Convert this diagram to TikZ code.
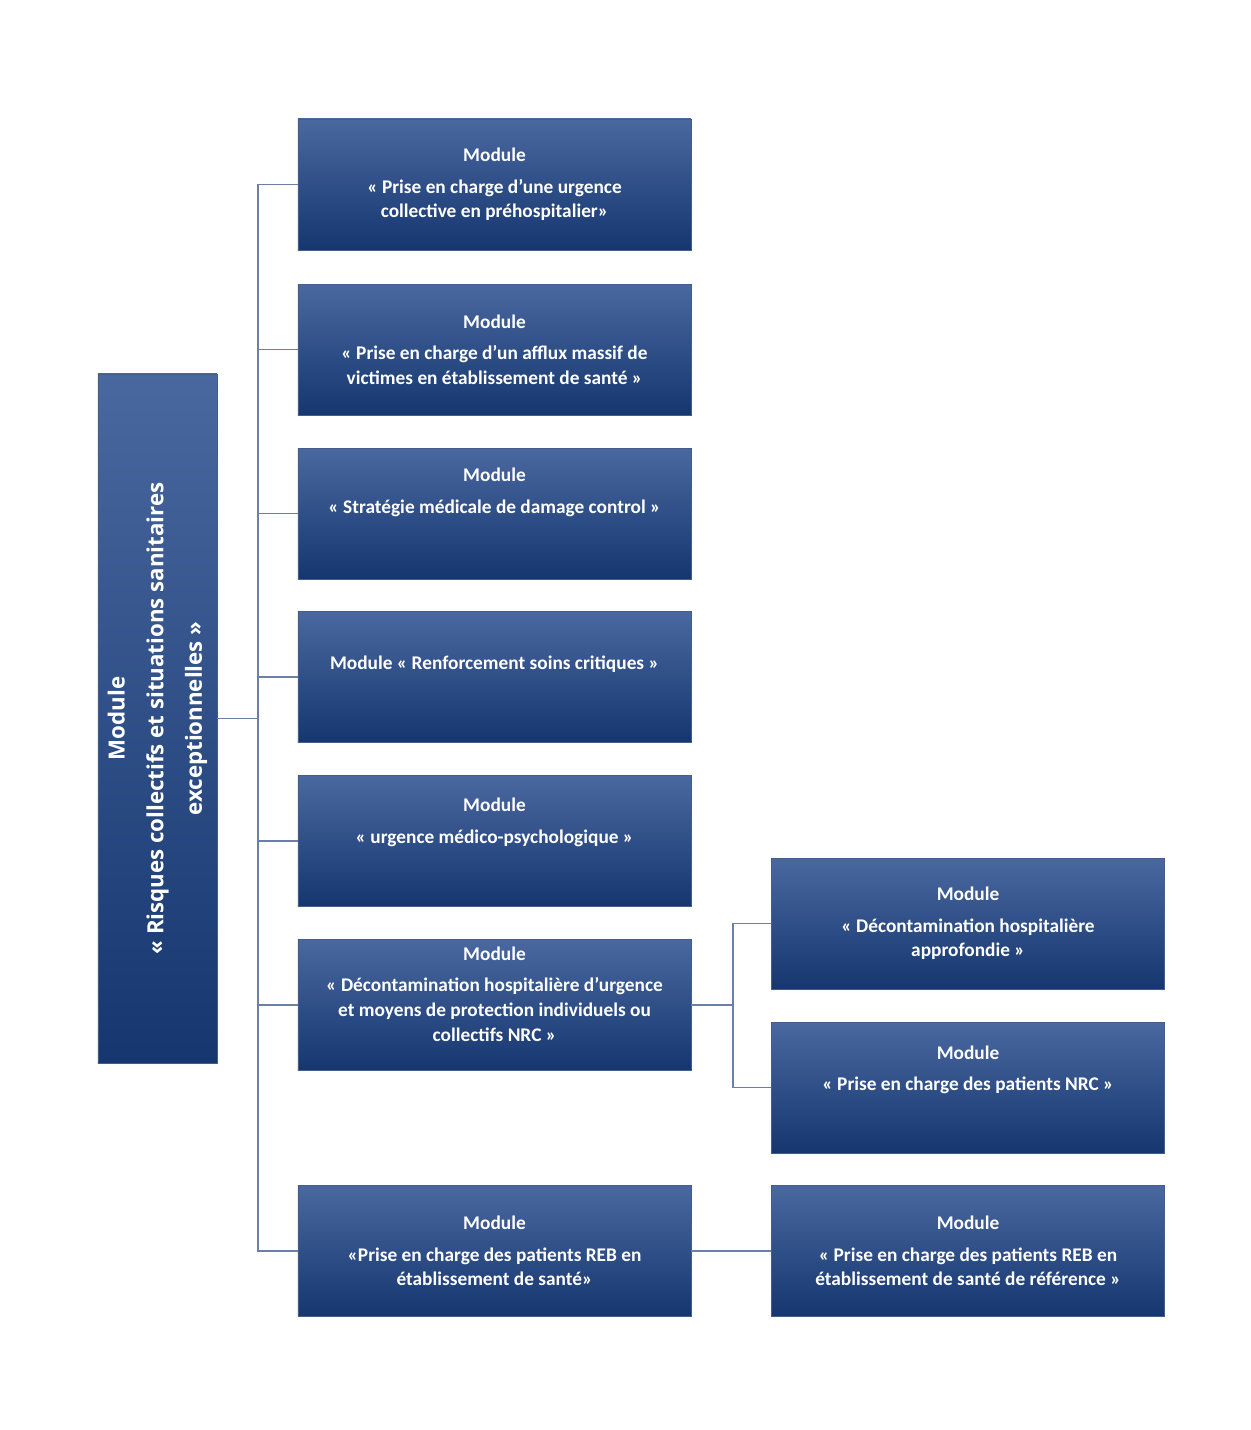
\documentclass[tikz,border=0pt]{standalone}
\usepackage{fontspec}
\setmainfont{Carlito}
\newfontfamily\titlefont{Open Sans}
\definecolor{boxtop}{HTML}{4A68A0}
\definecolor{boxbot}{HTML}{15366F}
\definecolor{linec}{HTML}{6A80A8}
\begin{document}
\begin{tikzpicture}[x=0.03cm,y=-0.03cm,
  box/.style={draw=boxbot!80!white,line width=0.6pt,top color=boxtop,bottom color=boxbot,
    text=white,font=\bfseries\fontsize{16.5}{21}\selectfont,align=center,inner sep=0pt,
    minimum width=11.79cm,minimum height=3.93cm},
  conn/.style={draw=linec,line width=0.9pt}]
\useasboundingbox (0,0) rectangle (1250,1430);
\node[box,minimum width=3.57cm,minimum height=20.67cm] (root) at (157.5,718.5) {};
\node[rotate=90,text=white,font=\titlefont\bfseries\fontsize{19}{33}\selectfont,align=center] at (root.center) {Module\\« Risques collectifs et situations sanitaires\\exceptionnelles »};
\node[box] (b1) at (494.5,184.5) {Module\\[6pt]« Prise en charge d’une urgence\\collective en préhospitalier»};
\node[box] (b2) at (494.5,349.5) {Module\\[6pt]« Prise en charge d’un afflux massif de\\victimes en établissement de santé »};
\node[box] (b3) at (494.5,513.5) {Module\\[6pt]« Stratégie médicale de damage control »\\[18pt]};
\node[box] (b4) at (494.5,677) {Module « Renforcement soins critiques »\\[3pt]};
\node[box] (b5) at (494.5,841) {Module\\[6pt]« urgence médico-psychologique »\\[14pt]};
\node[box] (b6) at (494.5,1005) {Module\\[6pt]« Décontamination hospitalière d’urgence\\et moyens de protection individuels ou\\collectifs NRC »\\[-2pt]};
\node[box] (b7) at (494.5,1251) {Module\\[6pt]«Prise en charge des patients REB en\\établissement de santé»};
\node[box] (c1) at (968,923.5) {Module\\[6pt]« Décontamination hospitalière\\approfondie »};
\node[box] (c2) at (968,1087.5) {Module\\[6pt]« Prise en charge des patients NRC »\\[12pt]};
\node[box] (c3) at (968,1251) {Module\\[6pt]« Prise en charge des patients REB en\\établissement de santé de référence »};
\coordinate (t) at (258,718.5);
\draw[conn] (root.east) -- (t);
\foreach \b in {b1,b2,b3,b4,b5,b6,b7} \draw[conn] (t) |- (\b.west);
\coordinate (s) at (733,1005);
\draw[conn] (b6.east) -- (s);
\draw[conn] (s) |- (c1.west);
\draw[conn] (s) |- (c2.west);
\draw[conn] (b7.east) -- (c3.west);
\end{tikzpicture}
\end{document}
